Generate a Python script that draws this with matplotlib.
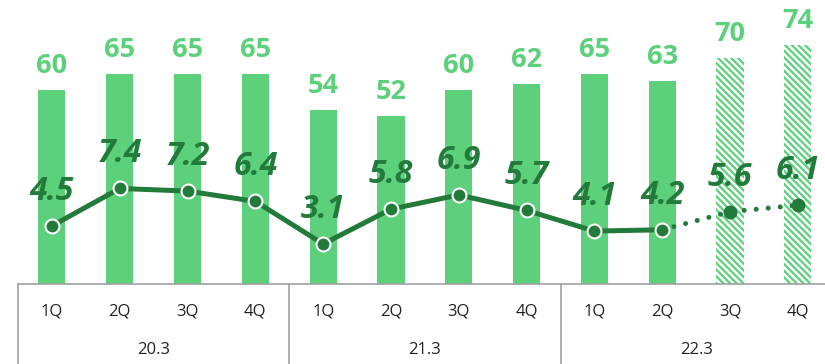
import matplotlib.pyplot as plt
import matplotlib.transforms as mtransforms
import numpy as np

plt.rcParams['font.family'] = ['Open Sans', 'DejaVu Sans']

quarters = ['1Q', '2Q', '3Q', '4Q'] * 3
years = ['20.3', '21.3', '22.3']
sales = [60, 65, 65, 65, 54, 52, 60, 62, 65, 63, 70, 74]
margin = [4.5, 7.4, 7.2, 6.4, 3.1, 5.8, 6.9, 5.7, 4.1, 4.2, 5.6, 6.1]
n_actual = 10  # last two quarters are forecasts

bar_green = '#5CD07A'
line_green = '#227A3B'
grid_gray = '#A0A0A0'

x = np.arange(len(sales))

fig = plt.figure(figsize=(8.25, 3.64), dpi=100)
ax = fig.add_axes([18 / 825, 80 / 364, 807 / 825, 284 / 364])
ax2 = ax.twinx()

# bars: solid for actuals, hatched for forecasts
ax.bar(x[:n_actual], sales[:n_actual], 0.4, color=bar_green, linewidth=0)
plt.rcParams['hatch.linewidth'] = 1.6
ax.bar(x[n_actual:], sales[n_actual:], 0.4, color='white', edgecolor=bar_green,
       hatch='\\' * 5, linewidth=0)
for xi, v in zip(x, sales):
    ax.annotate(f'{v}', xy=(xi, v), xytext=(0, 8), textcoords='offset points',
                ha='center', va='bottom', fontsize=19.5, fontweight='bold', color=bar_green)

# margin line
ax2.plot(x[:n_actual], margin[:n_actual], color=line_green, linewidth=3.6, zorder=3,
         marker='o', markersize=10, markerfacecolor=line_green,
         markeredgecolor='white', markeredgewidth=1.5, solid_capstyle='round')
ax2.plot(x[n_actual - 1:], margin[n_actual - 1:], color=line_green, linewidth=3.6,
         linestyle=(0, (0.01, 2.4)), dash_capstyle='round', zorder=2)
ax2.plot(x[n_actual:], margin[n_actual:], linestyle='none', marker='o', markersize=9,
         color=line_green, zorder=3)
for xi, v in zip(x, margin):
    ax2.annotate(f'{v}', xy=(xi, v), xytext=(0, 13), textcoords='offset points',
                 ha='center', va='bottom', fontsize=23, fontweight='bold',
                 fontstyle='italic', color=line_green)

ax.set_xlim(-0.5, 11.4)
ax.set_ylim(0, 88)
ax2.set_ylim(0, 22)
for a in (ax, ax2):
    a.set_yticks([])
    a.set_xticks([])
    for side in ('top', 'left', 'right', 'bottom'):
        a.spines[side].set_visible(False)
ax.spines['bottom'].set_visible(True)
ax.spines['bottom'].set_color(grid_gray)
ax.spines['bottom'].set_linewidth(1.2)

# category table under the axis
trans = mtransforms.blended_transform_factory(ax.transData, ax.transAxes)
for xd in (-0.5, 3.5, 7.5):
    ax.plot([xd, xd], [0, -80 / 284], transform=trans, color=grid_gray,
            linewidth=1.2, clip_on=False)
for xi, q in zip(x, quarters):
    ax.text(xi, -28 / 284, q, transform=trans, ha='center', va='center',
            fontsize=12, color='#222222')
for i, yr in enumerate(years):
    ax.text(4 * i + 1.5, -66 / 284, yr, transform=trans, ha='center', va='center',
            fontsize=12, color='#222222')

fig.savefig('out.png', dpi=100)
